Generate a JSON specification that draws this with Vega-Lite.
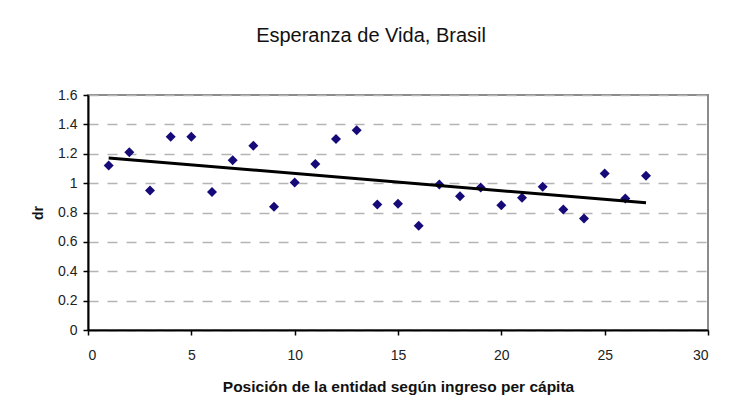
{
  "$schema": "https://vega.github.io/schema/vega-lite/v6.json",
  "width": 620,
  "height": 235,
  "autosize": {"type": "none"},
  "padding": {"left": 88, "top": 95, "right": 21, "bottom": 88},
  "background": "white",
  "title": {
    "text": "Esperanza de Vida, Brasil",
    "font": "Liberation Sans, Arial",
    "fontSize": 20,
    "fontWeight": "normal",
    "color": "#111111",
    "anchor": "middle",
    "dx": -27,
    "offset": 42
  },
  "data": {
    "values": [
      {"pos": 1, "dr": 1.12},
      {"pos": 2, "dr": 1.21},
      {"pos": 3, "dr": 0.95},
      {"pos": 4, "dr": 1.315},
      {"pos": 5, "dr": 1.315},
      {"pos": 6, "dr": 0.94},
      {"pos": 7, "dr": 1.155},
      {"pos": 8, "dr": 1.255},
      {"pos": 9, "dr": 0.84},
      {"pos": 10, "dr": 1.005},
      {"pos": 11, "dr": 1.13},
      {"pos": 12, "dr": 1.3},
      {"pos": 13, "dr": 1.36},
      {"pos": 14, "dr": 0.855},
      {"pos": 15, "dr": 0.86},
      {"pos": 16, "dr": 0.71},
      {"pos": 17, "dr": 0.99},
      {"pos": 18, "dr": 0.91},
      {"pos": 19, "dr": 0.97},
      {"pos": 20, "dr": 0.85},
      {"pos": 21, "dr": 0.9},
      {"pos": 22, "dr": 0.975},
      {"pos": 23, "dr": 0.82},
      {"pos": 24, "dr": 0.76},
      {"pos": 25, "dr": 1.065},
      {"pos": 26, "dr": 0.895},
      {"pos": 27, "dr": 1.05}
    ]
  },
  "encoding": {
    "x": {
      "field": "pos",
      "type": "quantitative",
      "scale": {"domain": [0, 30], "nice": false, "zero": false},
      "axis": {
        "values": [0, 5, 10, 15, 20, 25, 30],
        "title": "Posición de la entidad según ingreso per cápita",
        "grid": false,
        "domainColor": "#000000",
        "domainWidth": 2,
        "tickColor": "#000000",
        "tickWidth": 1.5,
        "tickSize": 5,
        "labelPadding": 13,
        "labelFont": "Liberation Sans, Arial",
        "labelFontSize": 14,
        "labelColor": "#222222",
        "titleFont": "Liberation Sans, Arial",
        "titleFontSize": 15.5,
        "titleFontWeight": "bold",
        "titleColor": "#111111",
        "titlePadding": 17
      }
    },
    "y": {
      "field": "dr",
      "type": "quantitative",
      "scale": {"domain": [0, 1.6], "nice": false},
      "axis": {
        "values": [0, 0.2, 0.4, 0.6, 0.8, 1, 1.2, 1.4, 1.6],
        "format": "~f",
        "title": "dr",
        "grid": true,
        "gridColor": "#b4b4b4",
        "gridWidth": 1.5,
        "gridDash": [10, 9],
        "domainColor": "#000000",
        "domainWidth": 2,
        "tickColor": "#000000",
        "tickWidth": 1.5,
        "tickSize": 5,
        "labelPadding": 6,
        "labelFont": "Liberation Sans, Arial",
        "labelFontSize": 14,
        "labelColor": "#222222",
        "titleFont": "Liberation Sans, Arial",
        "titleFontSize": 14,
        "titleFontWeight": "bold",
        "titleColor": "#111111",
        "titlePadding": 12
      }
    }
  },
  "layer": [
    {
      "mark": {"type": "point", "shape": "diamond", "filled": true, "size": 100, "color": "#160a78", "opacity": 1}
    },
    {
      "transform": [{"regression": "dr", "on": "pos"}],
      "mark": {"type": "line", "color": "#000000", "strokeWidth": 3}
    }
  ],
  "config": {
    "view": {"stroke": "#8c8c8c", "strokeWidth": 2}
  }
}
